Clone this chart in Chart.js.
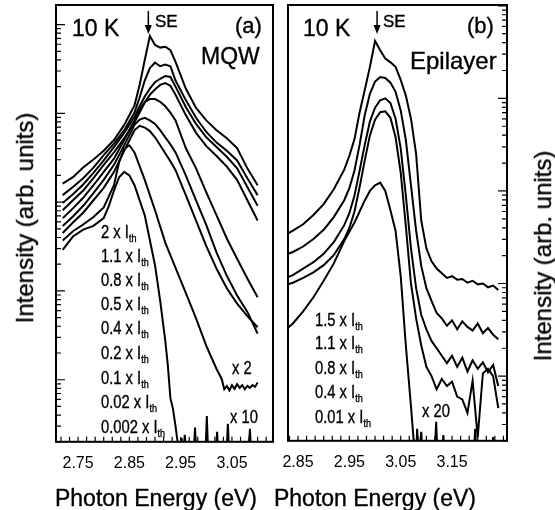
<!DOCTYPE html>
<html>
<head>
<meta charset="utf-8">
<script src="https://cdn.jsdelivr.net/npm/chart.js@4.4.0/dist/chart.umd.min.js"></script>
<style>
  body { margin: 0; background: #fff; }
  #wrap { position: relative; width: 555px; height: 510px; overflow: hidden; font-family: "Liberation Sans", Arial, sans-serif; color: #000; -webkit-text-stroke: 0.35px #000; }
  canvas { position: absolute; left: 0; top: 0; }
  .t { position: absolute; line-height: 1; white-space: nowrap; }
  .lab { position: absolute; line-height: 1; white-space: nowrap; font-size: 18px; transform: scaleX(0.82); transform-origin: 0 0; }
  .lab sub { font-size: 11px; vertical-align: -4px; line-height: 0; }
  .ytitle { position: absolute; font-size: 24px; line-height: 1; white-space: nowrap; transform: translate(-50%, -50%) rotate(-90deg); }
  .xtitle { position: absolute; width: 260px; text-align: center; font-size: 23px; line-height: 1; white-space: nowrap; }
</style>
</head>
<body>
<div id="wrap">
  <canvas id="mqw" width="555" height="510"></canvas>
  <canvas id="epi" width="555" height="510"></canvas>

  <div class="ytitle" style="left:25px; top:218px;">Intensity (arb. units)</div>
  <div class="ytitle" style="left:543px; top:256px;">Intensity (arb. units)</div>
  <div class="xtitle" style="left:26px; top:487px;">Photon Energy (eV)</div>
  <div class="xtitle" style="left:245px; top:487px;">Photon Energy (eV)</div>

  <div class="t" style="left:72px; top:17px; font-size:23px;">10 K</div>
  <div class="t" style="left:155px; top:13px; font-size:17px;">SE</div>
  <div class="t" style="left:235px; top:15px; font-size:22px;">(a)</div>
  <div class="t" style="left:201px; top:45px; font-size:23px;">MQW</div>

  <div class="t" style="left:303px; top:17px; font-size:23px;">10 K</div>
  <div class="t" style="left:383px; top:13px; font-size:17px;">SE</div>
  <div class="t" style="left:467px; top:15px; font-size:22px;">(b)</div>
  <div class="t" style="left:410px; top:49px; font-size:24px;">Epilayer</div>

  <div class="lab" style="left:101px; top:223px;">2 x I<sub>th</sub></div>
  <div class="lab" style="left:101px; top:247px;">1.1 x I<sub>th</sub></div>
  <div class="lab" style="left:101px; top:271px;">0.8 x I<sub>th</sub></div>
  <div class="lab" style="left:101px; top:295px;">0.5 x I<sub>th</sub></div>
  <div class="lab" style="left:101px; top:319px;">0.4 x I<sub>th</sub></div>
  <div class="lab" style="left:101px; top:344px;">0.2 x I<sub>th</sub></div>
  <div class="lab" style="left:101px; top:369px;">0.1 x I<sub>th</sub></div>
  <div class="lab" style="left:101px; top:393px;">0.02 x I<sub>th</sub></div>
  <div class="lab" style="left:101px; top:418px;">0.002 x I<sub>th</sub></div>
  <div class="lab" style="left:232px; top:359px;">x 2</div>
  <div class="lab" style="left:230px; top:408px;">x 10</div>

  <div class="lab" style="left:315px; top:311px;">1.5 x I<sub>th</sub></div>
  <div class="lab" style="left:315px; top:334px;">1.1 x I<sub>th</sub></div>
  <div class="lab" style="left:315px; top:359px;">0.8 x I<sub>th</sub></div>
  <div class="lab" style="left:315px; top:383px;">0.4 x I<sub>th</sub></div>
  <div class="lab" style="left:315px; top:408px;">0.01 x I<sub>th</sub></div>
  <div class="lab" style="left:422px; top:402px;">x 20</div>
</div>

<script>
// (a) MQW spectra, photon energy in eV, intensity in arb. units
const mqwE = [2.72, 2.74, 2.76, 2.78, 2.80, 2.82, 2.84, 2.86, 2.87, 2.88, 2.89, 2.90, 2.91, 2.92, 2.93, 2.94, 2.96, 2.98, 3.00, 3.02, 3.04, 3.06, 3.08, 3.10];
const mqw2 = [162, 191, 245, 302, 380, 501, 741, 1230, 2090, 3980, 7410, 5890, 5500, 5620, 5130, 3800, 1900, 1150, 832, 646, 525, 407, 240, 155];
const mqw11 = [120, 148, 186, 245, 339, 457, 646, 1020, 1510, 2340, 3240, 3720, 3390, 3550, 3390, 2340, 1410, 891, 617, 468, 380, 295, 186, 120];
const mqw08 = [98, 123, 158, 214, 295, 417, 603, 912, 1200, 1550, 1900, 2240, 2450, 2630, 2570, 2000, 1180, 759, 537, 417, 324, 240, 148, 91];
const mqw05 = [81, 105, 135, 186, 263, 363, 525, 794, 1020, 1320, 1620, 1860, 2090, 2190, 2040, 1620, 955, 603, 427, 331, 251, 178, 105, 62];
const mqw04 = [66, 85, 112, 155, 219, 309, 501, 832, 1100, 1350, 1450, 1450, 1350, 1200, 1020, 832, 407, 240, 129, 71, 39, 23, 13.8, 8.5];
const mqw02 = [54, 69, 91, 126, 178, 263, 437, 741, 851, 891, 832, 759, 646, 537, 447, 363, 200, 105, 55, 27, 14.8, 8.9, 5.8, 3.3];
const mqw01 = [45, 59, 76, 105, 145, 219, 380, 646, 724, 692, 631, 537, 437, 355, 288, 229, 120, 62, 32, 17.8, 10.7, 7.2, 5.2, 3.9];

// 0.02 x Ith (shown x 2)
const mqwX2E = [2.72, 2.74, 2.76, 2.78, 2.80, 2.82, 2.83, 2.84, 2.85, 2.86, 2.88, 2.90, 2.92, 2.94, 2.96, 2.98, 3.00, 3.01, 3.02, 3.03, 3.035, 3.04, 3.045, 3.05, 3.055, 3.06, 3.065, 3.07, 3.075, 3.08, 3.085, 3.09, 3.095, 3.10];
const mqwX2 = [37, 47, 56, 68, 87, 155, 282, 398, 437, 363, 178, 81, 35, 18.2, 9.5, 4.9, 2.4, 1.78, 1.32, 1.02, 0.78, 0.85, 0.76, 0.87, 0.79, 0.89, 0.81, 0.87, 0.78, 0.85, 0.81, 0.87, 0.83, 0.93];

// 0.002 x Ith (shown x 10)
const mqwX10E = [2.72, 2.74, 2.76, 2.78, 2.80, 2.81, 2.82, 2.83, 2.84, 2.85, 2.86, 2.88, 2.90, 2.91, 2.92, 2.925, 2.93, 2.935, 2.94, 2.945, 2.95, 2.952, 2.955, 2.958, 2.962, 2.975, 2.978, 2.981, 2.998, 3.001, 3.004, 3.018, 3.021, 3.024, 3.039, 3.042, 3.045, 3.082, 3.085, 3.088, 3.10];
const mqwX10 = [29, 41, 49, 54, 66, 91, 135, 191, 219, 200, 155, 71, 19.5, 7.8, 2.75, 1.45, 0.62, 0.47, 0.30, 0.18, 0.126, 0.22, 0.126, 0.24, 0.126, 0.126, 0.29, 0.126, 0.126, 0.39, 0.126, 0.126, 0.26, 0.126, 0.126, 0.32, 0.126, 0.126, 0.28, 0.126, 0.126];

// (b) epilayer spectra
const epiE = [2.83, 2.84, 2.86, 2.88, 2.90, 2.92, 2.94, 2.95, 2.96, 2.97, 2.98, 2.99, 3.00, 3.01, 3.02, 3.03, 3.04, 3.05, 3.06, 3.07, 3.08, 3.09, 3.10, 3.11, 3.12, 3.13, 3.14, 3.15, 3.16, 3.17, 3.18, 3.19, 3.20, 3.21, 3.22, 3.23, 3.24];
const epi15 = [34.7, 37.2, 43.7, 55, 72, 105, 170, 240, 363, 708, 1230, 2190, 4170, 3310, 2690, 2450, 2190, 1585, 1072, 603, 251, 47.9, 24, 17.4, 14.5, 12.9, 11.5, 12.0, 11.0, 11.2, 10.2, 10.7, 9.8, 10.0, 9.1, 9.5, 8.5];
const epi11 = [20.9, 21.9, 25.1, 30.2, 38.0, 52.5, 79.4, 107, 166, 316, 661, 1122, 1514, 1698, 1660, 1479, 1175, 741, 355, 115, 37.2, 15.5, 8.9, 6.5, 4.8, 4.2, 3.5, 4.0, 3.2, 3.9, 3.4, 3.1, 3.7, 2.9, 3.3, 2.8, 2.5];
const epi08 = [11.7, 12.3, 14.5, 17.0, 20.9, 28.2, 42.7, 57.5, 89, 166, 316, 562, 794, 955, 1000, 891, 603, 288, 89, 24, 8.9, 4.6, 3.2, 2.4, 2.0, 1.66, 1.38, 1.66, 1.26, 1.58, 1.12, 1.48, 1.20, 1.41, 1.10, 1.32, 0.78];
const epi04 = [9.8, 10.2, 11.5, 13.2, 15.8, 20.4, 30.2, 39.8, 60, 110, 214, 398, 589, 708, 724, 617, 380, 158, 41.7, 10.0, 4.2, 2.14, 1.26, 1.00, 0.72, 0.93, 0.78, 0.87, 0.60, 0.56, 0.40, 0.89, 0.22, 1.07, 1.20, 1.00, 0.45];

// 0.01 x Ith (shown x 20)
const epiX20E = [2.83, 2.84, 2.86, 2.88, 2.90, 2.92, 2.94, 2.96, 2.98, 2.99, 3.00, 3.01, 3.02, 3.03, 3.04, 3.05, 3.06, 3.07, 3.075, 3.08, 3.082, 3.085, 3.09, 3.093, 3.116, 3.119, 3.122, 3.13, 3.133, 3.136, 3.158, 3.16, 3.162, 3.192, 3.195, 3.198, 3.227, 3.23, 3.233, 3.24];
const epiX20 = [3.3, 3.7, 5.0, 7.1, 10.7, 16.6, 28.8, 45.7, 79, 100, 115, 123, 100, 62, 37, 12.0, 2.14, 0.47, 0.21, 0.126, 0.27, 0.126, 0.25, 0.126, 0.126, 0.32, 0.126, 0.126, 0.23, 0.126, 0.126, 0.18, 0.126, 0.126, 0.27, 0.126, 0.126, 0.22, 0.126, 0.126];

const mqwTicks = [2.75, 2.85, 2.95, 3.05];
const epiTicks = [2.85, 2.95, 3.05, 3.15];
const mqwSE = 2.887;
const epiSE = 3.004;

// frame, inward ticks and the SE arrow
const framePlugin = {
  id: 'frame',
  afterDraw(chart, args, opts) {
    const { ctx, chartArea: a, scales: { x, y } } = chart;
    ctx.save();
    ctx.strokeStyle = '#000';
    ctx.fillStyle = '#000';
    ctx.lineWidth = 1.2;
    ctx.beginPath();
    const x0 = opts.side === 'left' ? a.left : a.right;
    const dir = opts.side === 'left' ? 1 : -1;
    for (let d = -1; d <= 4; d++) {
      for (let m = 1; m < 10; m++) {
        const v = m * Math.pow(10, d);
        if (v < y.min || v > y.max) continue;
        const py = y.getPixelForValue(v);
        ctx.moveTo(x0, py);
        ctx.lineTo(x0 + dir * (m === 1 ? 9 : 5), py);
      }
    }
    const step = opts.minorStep;
    let e = opts.ticks[0] - Math.floor((opts.ticks[0] - x.min) / step) * step;
    for (; e < x.max; e += step) {
      const px = x.getPixelForValue(e);
      ctx.moveTo(px, a.bottom);
      ctx.lineTo(px, a.bottom - 5);
    }
    ctx.stroke();

    ctx.lineWidth = 2;
    ctx.strokeRect(a.left, a.top, a.right - a.left, a.bottom - a.top);

    const sx = x.getPixelForValue(opts.se);
    ctx.lineWidth = 1.5;
    ctx.beginPath();
    ctx.moveTo(sx, a.top + 6);
    ctx.lineTo(sx, a.top + 22);
    ctx.stroke();
    ctx.beginPath();
    ctx.moveTo(sx - 3.5, a.top + 20);
    ctx.lineTo(sx + 3.5, a.top + 20);
    ctx.lineTo(sx, a.top + 29);
    ctx.closePath();
    ctx.fill();
    ctx.restore();
  }
};

function pairs(es, vs) {
  return es.map((e, i) => ({ x: e, y: vs[i] }));
}

function panel(id, cfg) {
  new Chart(document.getElementById(id), {
    type: 'line',
    data: {
      datasets: cfg.series.map(s => ({
        data: pairs(s[0], s[1]),
        borderColor: '#000',
        borderWidth: 2,
        pointRadius: 0,
        tension: 0
      }))
    },
    options: {
      responsive: false,
      animation: false,
      events: [],
      layout: { padding: cfg.pad },
      scales: {
        x: {
          type: 'linear',
          min: cfg.xMin,
          max: cfg.xMax,
          afterBuildTicks: s => { s.ticks = cfg.ticks.map(v => ({ value: v })); },
          ticks: {
            callback: v => v.toFixed(2),
            color: '#000',
            font: { family: 'Liberation Sans', size: 16 },
            padding: 12,
            maxRotation: 0,
            autoSkip: false
          },
          grid: { display: false, drawTicks: false },
          border: { display: false }
        },
        y: { type: 'logarithmic', min: 0.2, max: cfg.yMax, display: false }
      },
      plugins: {
        legend: { display: false },
        tooltip: { enabled: false },
        frame: { side: cfg.side, ticks: cfg.ticks, minorStep: 0.1 / 6, se: cfg.se }
      }
    },
    plugins: [framePlugin]
  });
}

panel('mqw', {
  pad: { left: 56, right: 282, top: 5, bottom: 25 },
  xMin: 2.707, xMax: 3.130, yMax: 16600,
  ticks: mqwTicks, side: 'left', se: mqwSE,
  series: [
    [mqwE, mqw2], [mqwE, mqw11], [mqwE, mqw08], [mqwE, mqw05], [mqwE, mqw04],
    [mqwE, mqw02], [mqwE, mqw01], [mqwX2E, mqwX2], [mqwX10E, mqwX10]
  ]
});

panel('epi', {
  pad: { left: 288, right: 48, top: 5, bottom: 26 },
  xMin: 2.8305, xMax: 3.257, yMax: 10200,
  ticks: epiTicks, side: 'right', se: epiSE,
  series: [
    [epiE, epi15], [epiE, epi11], [epiE, epi08], [epiE, epi04], [epiX20E, epiX20]
  ]
});
</script>
</body>
</html>
